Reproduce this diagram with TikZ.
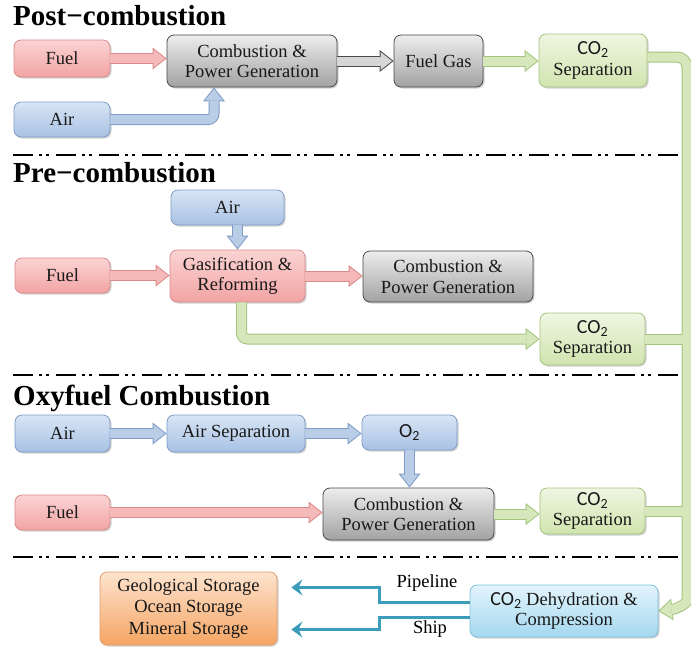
\documentclass[tikz,border=0pt]{standalone}
\usepackage{fontspec}
\setmainfont{Liberation Serif}
\newfontfamily\cfont[Scale=1.08]{Carlito}
\usetikzlibrary{arrows.meta,shadows}
\definecolor{redD}{HTML}{D98A8A}\definecolor{redL}{HTML}{F6B9B9}
\definecolor{redT}{HTML}{FBD3D3}\definecolor{redB}{HTML}{F2A4A4}
\definecolor{bluD}{HTML}{7E9CC6}\definecolor{bluL}{HTML}{B9CDE7}
\definecolor{bluT}{HTML}{D8E5F5}\definecolor{bluB}{HTML}{A8C2E4}
\definecolor{graD}{HTML}{4A4A4A}\definecolor{graL}{HTML}{D6D6D6}
\definecolor{graT}{HTML}{EDEDED}\definecolor{graB}{HTML}{A2A2A2}
\definecolor{grnD}{HTML}{A3C47E}\definecolor{grnL}{HTML}{D6E8BB}
\definecolor{grnT}{HTML}{EFF6E2}\definecolor{grnB}{HTML}{D0E4AE}
\definecolor{cyaD}{HTML}{7DC1DE}\definecolor{cyaT}{HTML}{E3F4FC}\definecolor{cyaB}{HTML}{A4D8EF}
\definecolor{oraD}{HTML}{E59B6B}\definecolor{oraT}{HTML}{FDE3CE}\definecolor{oraB}{HTML}{F5A563}
\definecolor{tealc}{HTML}{3B9DBA}
\newcommand\COtwo{{\cfont CO\textsubscript{2}}}
\begin{document}
\begin{tikzpicture}[x=1pt,y=-1pt,
  base/.style={rounded corners=7pt, line width=0.8pt, align=center, inner sep=0pt,
    font=\fontsize{18.5}{20.5}\selectfont, text=black!90,
    drop shadow={shadow xshift=1.5pt, shadow yshift=-1.5pt, opacity=0.3, fill=black!60}},
  sz/.style 2 args={minimum width=#1pt, minimum height=#2pt},
  rbox/.style={base, draw=redD, top color=redT, bottom color=redB},
  bbox/.style={base, draw=bluD, top color=bluT, bottom color=bluB},
  gbox/.style={base, draw=graD, top color=graT, bottom color=graB},
  nbox/.style={base, draw=grnD, top color=grnT, bottom color=grnB},
  cbox/.style={base, draw=cyaD, top color=cyaT, bottom color=cyaB},
  obox/.style={base, draw=oraD, top color=oraT, bottom color=oraB},
  fatout/.style={line width=11pt, draw=#1, -{Triangle[length=14pt,width=22pt,line width=0pt,fill=#1]}},
  fatin/.style={line width=9pt, draw=#1, shorten >=1.6pt, -{Triangle[length=11.4pt,width=17.9pt,line width=0pt,fill=#1]}},
  shaftout/.style={line width=11pt, draw=#1},
  shaftin/.style={line width=9pt, draw=#1},
  tarrow/.style={line width=3pt, draw=tealc, -{Stealth[length=11pt,width=16pt,inset=4pt]}},
  title/.style={font=\fontsize{29}{31}\selectfont\bfseries, inner sep=0pt, anchor=base west},
  sepline/.style={line width=2.5pt, dash pattern=on 20pt off 6pt on 3pt off 4pt on 3pt off 7pt},
  lbl/.style={font=\fontsize{18.5}{20.5}\selectfont, inner sep=0pt}
]
\useasboundingbox (0,0) rectangle (691,649);

% titles
\node[title] (t1) at (13,25) {Post−combustion};
\node[title] (t2) at (13,182) {Pre−combustion};
\node[title] (t3) at (13,405) {Oxyfuel Combustion};

% separators
\draw[sepline] (13,155) -- (686,155);
\draw[sepline] (13,375) -- (686,375);
\draw[sepline] (13,557) -- (686,557);

% post-combustion
\node[rbox, sz={96}{37}] (fuel1) at (62,58.5) {Fuel};
\node[gbox, sz={170}{52}] (comb1) at (252,61) {Combustion \&\\Power Generation};
\node[bbox, sz={96}{35}] (air1) at (62,119.5) {Air};
\node[gbox, sz={89}{52}] (fgas) at (438.5,61) {Fuel Gas};
\node[nbox, sz={108}{53}] (sep1) at (593,60.5) {\COtwo\\Separation};

% pre-combustion
\node[bbox, sz={113}{35}] (air2) at (227.5,207.5) {Air};
\node[rbox, sz={95}{35}] (fuel2) at (62.5,275.5) {Fuel};
\node[rbox, sz={135}{52}] (gasif) at (237.5,276) {Gasification \&\\Reforming};
\node[gbox, sz={170}{51}] (comb2) at (448,276.5) {Combustion \&\\Power Generation};
\node[nbox, sz={105}{52}] (sep2) at (592.5,339) {\COtwo\\Separation};

% oxyfuel
\node[bbox, sz={95}{37}] (air3) at (62.5,433.5) {Air};
\node[bbox, sz={138}{37}] (asep) at (236,433.5) {Air Separation};
\node[bbox, sz={95}{35}] (o2) at (409.5,432.5) {{\cfont O\textsubscript{2}}};
\node[rbox, sz={95}{35}] (fuel3) at (62.5,512.5) {Fuel};
\node[gbox, sz={171}{52}] (comb3) at (408.5,514) {Combustion \&\\Power Generation};
\node[nbox, sz={105}{46}] (sep3) at (592.5,511) {\COtwo\\Separation};

% storage
\node[obox, sz={177}{73}, font=\fontsize{18.5}{21.5}\selectfont] (stor) at (188.5,608.5) {Geological Storage\\Ocean Storage\\Mineral Storage};
\node[cbox, sz={188}{52}] (dehy) at (564,611) {\COtwo{} Dehydration \&\\Compression};

% red arrows
\foreach \a/\b in {fuel1/comb1, fuel2/gasif, gasif/comb2, fuel3/comb3} {
  \draw[fatout=redD] (\a.east) -- (\a.east -| \b.west);
  \draw[fatin=redL] (\a.east) -- (\a.east -| \b.west);
}
% blue arrows
\draw[fatout=bluD, rounded corners=6pt] (air1.east) -| ([xshift=-38pt]comb1.south);
\draw[fatin=bluL, rounded corners=6pt] (air1.east) -| ([xshift=-38pt]comb1.south);
\draw[fatout=bluD] (air2.south -| gasif.north) -- (gasif.north);
\draw[fatin=bluL] (air2.south -| gasif.north) -- (gasif.north);
\foreach \a/\b in {air3/asep, asep/o2} {
  \draw[fatout=bluD] (\a.east) -- (\a.east -| \b.west);
  \draw[fatin=bluL] (\a.east) -- (\a.east -| \b.west);
}
\draw[fatout=bluD] (o2.south) -- (o2.south |- comb3.north);
\draw[fatin=bluL] (o2.south) -- (o2.south |- comb3.north);
% gray arrow
\draw[fatout=graD] (comb1.east) -- (fgas.west);
\draw[fatin=graL] (comb1.east) -- (fgas.west);
% green arrows
\draw[fatout=grnD] (fgas.east) -- (fgas.east -| sep1.west);
\draw[fatin=grnL] (fgas.east) -- (fgas.east -| sep1.west);
\draw[fatout=grnD] (comb3.east) -- (comb3.east -| sep3.west);
\draw[fatin=grnL] (comb3.east) -- (comb3.east -| sep3.west);
\draw[fatout=grnD, rounded corners=6pt] ([xshift=4pt]gasif.south) |- (sep2.west);
\draw[fatin=grnL, rounded corners=6pt] ([xshift=4pt]gasif.south) |- (sep2.west);

% green collector rail
\coordinate (railtop) at (687,57);
\coordinate (railbot) at (687,590);
\draw[shaftout=grnD] (sep2.east) -- (sep2.east -| railtop);
\draw[shaftout=grnD] (sep3.east) -- (sep3.east -| railtop);
\draw[fatout=grnD, rounded corners=10pt] ([yshift=3.5pt]sep1.east) -- (railtop) -- (railbot) .. controls (687,604) and (676,609) .. (dehy.east);
\draw[shaftin=grnL] (sep2.east) -- (sep2.east -| railtop);
\draw[shaftin=grnL] (sep3.east) -- (sep3.east -| railtop);
\draw[fatin=grnL, rounded corners=10pt] ([yshift=3.5pt]sep1.east) -- (railtop) -- (railbot) .. controls (687,604) and (676,609) .. (dehy.east);

% teal transport arrows
\draw[tarrow, shorten >=14pt] ([yshift=9pt]dehy.west) -- ++(-90,0) |- ([yshift=21pt]stor.east);
\draw[tarrow, shorten >=14pt] ([yshift=-6pt]dehy.west) -- ++(-90,0) |- ([yshift=-21pt]stor.east);
\node[lbl] (pipe) at (427,583) {Pipeline};
\node[lbl] (ship) at (430,629) {Ship};
\end{tikzpicture}
\end{document}
